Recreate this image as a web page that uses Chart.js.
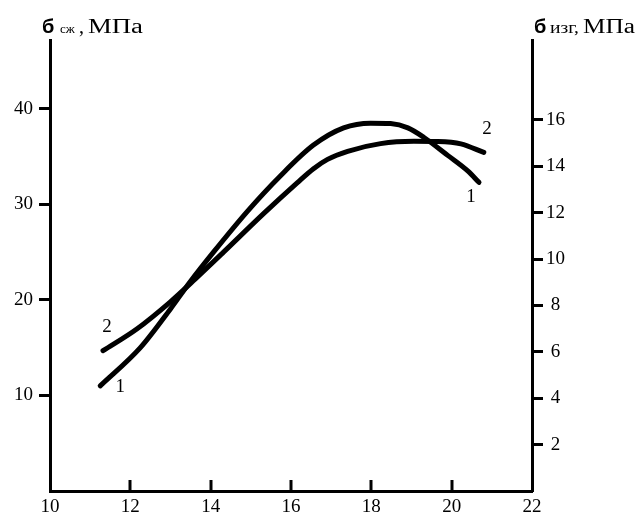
<!DOCTYPE html>
<html>
<head>
<meta charset="utf-8">
<script src="https://cdn.jsdelivr.net/npm/chart.js@4.4.1/dist/chart.umd.min.js"></script>
<style>
    html, body { margin: 0; padding: 0; background: #fff; }
    #wrap { width: 639px; height: 518px; position: relative; }
</style>
</head>
<body>
<div id="wrap"><canvas id="chart"></canvas></div>
<script>
// curve 1: compressive strength (left axis), curve 2: bending strength (right axis)
const moisture1 = [11.25, 12.25, 12.99, 13.49, 14.07, 14.92, 15.74, 16.56, 17.31, 17.98, 18.48, 18.91, 19.31, 19.91, 20.40, 20.68];
const compress1 = [11.0, 15.0, 19.0, 21.9, 25.0, 29.3, 33.0, 36.2, 38.0, 38.5, 38.45, 38.0, 37.0, 35.1, 33.5, 32.3];
const moisture2 = [11.32, 12.17, 12.99, 13.62, 14.32, 15.31, 16.16, 16.56, 16.91, 17.41, 18.23, 19.06, 19.66, 20.23, 20.80];
const bend2 = [6.05, 7.0, 8.15, 9.15, 10.3, 11.95, 13.3, 13.9, 14.3, 14.65, 14.98, 15.08, 15.07, 14.97, 14.6];

const xTicks = [10, 12, 14, 16, 18, 20, 22];
const leftTicks = [10, 20, 30, 40];
const rightTicks = [2, 4, 6, 8, 10, 12, 14, 16];

// curve numbers, placed in data units of x and left axis
const curveLabels = [
    { text: '2', x: 11.42, y: 17.2 },
    { text: '1', x: 11.75, y: 10.9 },
    { text: '1', x: 20.48, y: 30.8 },
    { text: '2', x: 20.88, y: 37.9 }
];

const serif = '"Liberation Serif", "Times New Roman", serif';

function toPoints(xs, ys) {
    return xs.map((x, i) => ({ x: x, y: ys[i] }));
}

function keepTicks(list) {
    return function (scale) {
        scale.ticks = list.map(v => ({ value: v }));
    };
}

function drawScaled(ctx, text, x, y, width) {
    const w = ctx.measureText(text).width;
    ctx.save();
    ctx.translate(x, y);
    ctx.scale(width / w, 1);
    ctx.fillText(text, 0, 0);
    ctx.restore();
}

const extras = {
    id: 'extras',
    afterDraw(chart) {
        const ctx = chart.ctx;
        const xs = chart.scales.x;
        const ys = chart.scales.y;
        const area = chart.chartArea;
        ctx.save();
        ctx.strokeStyle = '#000';
        ctx.lineWidth = 3;
        xTicks.slice(1, -1).forEach(v => {
            const px = Math.round(xs.getPixelForValue(v));
            ctx.beginPath();
            ctx.moveTo(px, area.bottom);
            ctx.lineTo(px, area.bottom - 11);
            ctx.stroke();
        });

        ctx.fillStyle = '#000';
        ctx.textBaseline = 'alphabetic';
        ctx.textAlign = 'left';

        // left title
        ctx.font = 'bold 20px "Liberation Sans", Arial, sans-serif';
        ctx.fillText('б', 42, 33);
        ctx.font = '13px ' + serif;
        ctx.fillText('сж', 60, 33);
        ctx.font = '20px ' + serif;
        ctx.fillText(',', 79, 33);
        drawScaled(ctx, 'МПа', 88, 33, 55);

        // right title
        ctx.font = 'bold 20px "Liberation Sans", Arial, sans-serif';
        ctx.fillText('б', 534, 33);
        ctx.font = '16px ' + serif;
        drawScaled(ctx, 'изг,', 550, 33, 29);
        ctx.font = '20px ' + serif;
        drawScaled(ctx, 'МПа', 583, 33, 52);

        // curve numbers
        ctx.font = '19px ' + serif;
        ctx.textAlign = 'center';
        ctx.textBaseline = 'middle';
        curveLabels.forEach(l => {
            ctx.fillText(l.text, xs.getPixelForValue(l.x), ys.getPixelForValue(l.y));
        });
        ctx.restore();
    }
};

const axisFont = { family: serif, size: 19 };

new Chart(document.getElementById('chart'), {
    type: 'line',
    data: {
        datasets: [
            {
                label: '1',
                data: toPoints(moisture1, compress1),
                yAxisID: 'y',
                borderColor: '#000',
                borderWidth: 5,
                borderCapStyle: 'round',
                borderJoinStyle: 'round',
                pointRadius: 0,
                tension: 0.4,
                cubicInterpolationMode: 'monotone',
                fill: false
            },
            {
                label: '2',
                data: toPoints(moisture2, bend2),
                yAxisID: 'y2',
                borderColor: '#000',
                borderWidth: 5,
                borderCapStyle: 'round',
                borderJoinStyle: 'round',
                pointRadius: 0,
                tension: 0.4,
                cubicInterpolationMode: 'monotone',
                fill: false
            }
        ]
    },
    options: {
        responsive: true,
        maintainAspectRatio: false,
        animation: false,
        layout: { padding: { top: 40, left: 0, right: 0, bottom: 0 } },
        plugins: { legend: { display: false }, tooltip: { enabled: false } },
        scales: {
            x: {
                type: 'linear',
                min: 10,
                max: 22,
                afterBuildTicks: keepTicks(xTicks),
                afterFit: s => { s.height = 27; },
                grid: { drawOnChartArea: false, drawTicks: false },
                border: { display: true, color: '#000', width: 3 },
                ticks: { color: '#000', font: axisFont, padding: 5, maxRotation: 0 }
            },
            y: {
                position: 'left',
                min: 0,
                max: 47.2,
                afterBuildTicks: keepTicks(leftTicks),
                afterFit: s => { s.width = 50; },
                grid: { drawOnChartArea: false, drawTicks: true, tickLength: 11, color: '#000', tickWidth: 3 },
                border: { display: true, color: '#000', width: 3 },
                ticks: { color: '#000', font: axisFont, padding: 6 }
            },
            y2: {
                position: 'right',
                min: 0,
                max: 19.45,
                afterBuildTicks: keepTicks(rightTicks),
                afterFit: s => { s.width = 107; },
                grid: { drawOnChartArea: false, drawTicks: true, tickLength: 11, color: '#000', tickWidth: 3 },
                border: { display: true, color: '#000', width: 3 },
                ticks: { color: '#000', font: axisFont, padding: 3, crossAlign: 'center' }
            }
        }
    },
    plugins: [extras]
});
</script>
</body>
</html>
